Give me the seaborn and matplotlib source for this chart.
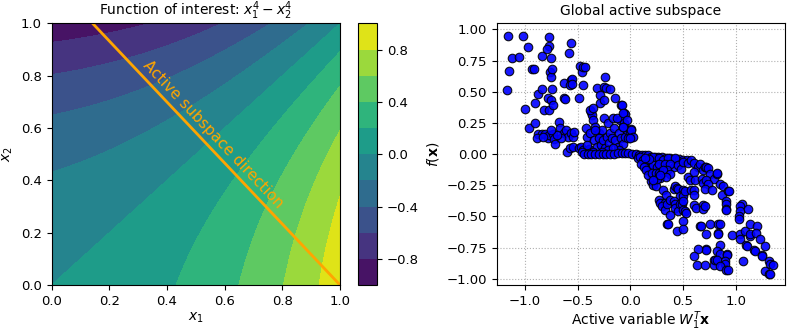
import numpy as np
import pandas as pd
import matplotlib
matplotlib.use("Agg")
import matplotlib.pyplot as plt
import seaborn as sns

# ---------------- data ----------------
# plotted (standardised) coordinates of the contour grid
u1_grid = np.linspace(0.0, 1.0, 201)
u2_grid = np.linspace(0.0, 1.0, 201)
# the function's inputs are mapped from [-1, 1] onto [0, 1]: s = (u + 1) / 2
input_lower = 0.0
input_upper = 1.0
contour_levels = [-1.0, -0.8, -0.6, -0.4, -0.2, 0.0, 0.2, 0.4, 0.6, 0.8, 1.0]
cbar_ticks = [-0.8, -0.4, 0.0, 0.4, 0.8]
axis_ticks_left = [0.0, 0.2, 0.4, 0.6, 0.8, 1.0]

# active subspace direction line (endpoints)
line_x = [0.142, 1.0]
line_y = [1.0, 0.0]

# scatter: active variable vs f(x)
points = [
    # upper-left cloud
    (-1.16, 0.95), (-1.02, 0.95), (-0.97, 0.86), (-1.12, 0.77), (-1.05, 0.78),
    (-1.15, 0.67), (-1.17, 0.51), (-1.00, 0.36), (-0.96, 0.21), (-0.90, 0.41),
    (-0.93, 0.68), (-0.91, 0.68), (-0.87, 0.48), (-0.84, 0.52), (-0.84, 0.79),
    (-0.77, 0.94), (-0.77, 0.87), (-0.79, 0.84), (-0.75, 0.77), (-0.76, 0.66),
    (-0.75, 0.62), (-0.74, 0.68), (-0.74, 0.52), (-0.78, 0.45), (-0.75, 0.43),
    (-0.82, 0.35), (-0.77, 0.35), (-0.73, 0.39), (-0.56, 0.89), (-0.58, 0.81),
    (-0.63, 0.57), (-0.63, 0.45), (-0.56, 0.59), (-0.55, 0.60), (-0.57, 0.55),
    (-0.49, 0.45), (-0.45, 0.55), (-0.48, 0.71), (-0.46, 0.66), (-0.45, 0.70),
    (-0.43, 0.70), (-0.24, 0.62), (-0.32, 0.53), (-0.29, 0.47), (-0.25, 0.54),
    (-0.23, 0.53), (-0.19, 0.52), (-0.29, 0.41), (-0.14, 0.45), (-0.09, 0.39),
    (-0.06, 0.33), (-0.05, 0.32), (-0.62, 0.44), (-0.55, 0.56),
    # band around 0.1 - 0.25
    (-0.90, 0.25), (-0.87, 0.16), (-0.84, 0.16), (-0.81, 0.16), (-0.88, 0.13),
    (-0.78, 0.13), (-0.77, 0.15), (-0.73, 0.16), (-0.72, 0.12), (-0.71, 0.08),
    (-0.68, 0.26), (-0.67, 0.21), (-0.63, 0.17), (-0.61, 0.19), (-0.59, 0.14),
    (-0.56, 0.17), (-0.54, 0.14), (-0.53, 0.18), (-0.60, 0.02), (-0.57, 0.05),
    (-0.54, 0.06), (-0.66, 0.13), (-0.69, 0.15), (-0.83, 0.14), (-0.75, 0.19),
    # central cluster
    (-0.49, 0.05), (-0.47, 0.06), (-0.45, 0.03), (-0.42, 0.21), (-0.41, 0.14),
    (-0.39, 0.04), (-0.38, 0.17), (-0.37, 0.34), (-0.36, 0.31), (-0.35, 0.27),
    (-0.34, 0.11), (-0.33, 0.22), (-0.32, 0.06), (-0.30, 0.17), (-0.30, 0.13),
    (-0.28, 0.07), (-0.27, 0.19), (-0.26, 0.11), (-0.25, 0.29), (-0.24, 0.05),
    (-0.22, 0.14), (-0.21, 0.25), (-0.20, 0.09), (-0.19, 0.17), (-0.17, 0.13),
    (-0.16, 0.29), (-0.15, 0.21), (-0.14, 0.11), (-0.12, 0.06), (-0.11, 0.17),
    (-0.10, 0.27), (-0.09, 0.13), (-0.07, 0.08), (-0.06, 0.25), (-0.05, 0.14),
    (-0.03, 0.19), (0.00, 0.17), (0.01, 0.20), (-0.02, 0.13), (-0.21, 0.03),
    (-0.27, 0.02), (-0.35, 0.02), (-0.41, 0.07), (-0.46, 0.02), (-0.11, 0.03),
    (-0.16, 0.05), (-0.13, 0.29), (-0.07, 0.22), (-0.33, 0.19), (-0.38, 0.35),
    (-0.35, 0.37), (-0.25, 0.43), (-0.08, 0.39), (-0.07, 0.33), (-0.03, 0.27),
    (0.01, 0.19), (0.03, 0.14), (0.00, 0.13), (-0.07, 0.22),
    # line near y = 0
    (-0.44, 0.00), (-0.40, 0.00), (-0.37, 0.00), (-0.33, 0.00), (-0.30, 0.00),
    (-0.26, 0.00), (-0.23, 0.00), (-0.19, 0.00), (-0.15, 0.00), (-0.12, 0.01),
    (-0.08, 0.01), (-0.05, 0.01), (-0.02, 0.01), (0.02, 0.00), (0.05, 0.00),
    (0.08, -0.01), (0.11, -0.01), (0.14, -0.01), (0.17, -0.01), (0.20, -0.02),
    (0.23, -0.02), (0.26, -0.02), (0.30, -0.02), (0.34, -0.03), (0.38, -0.03),
    (0.42, -0.04), (0.46, -0.04), (0.50, -0.05), (0.54, -0.05),
    # right dense region
    (0.07, -0.03), (0.09, -0.02), (0.12, -0.05), (0.16, -0.07), (0.19, -0.11),
    (0.20, -0.14), (0.21, -0.16), (0.20, -0.22), (0.22, -0.25), (0.10, -0.08),
    (0.13, -0.10), (0.15, -0.13), (0.17, -0.17), (0.22, -0.02), (0.27, -0.03),
    (0.31, -0.05), (0.36, -0.03), (0.42, -0.03), (0.22, -0.09), (0.25, -0.10),
    (0.31, -0.11), (0.41, -0.10), (0.21, -0.15), (0.24, -0.15), (0.27, -0.15),
    (0.30, -0.15), (0.24, -0.26), (0.27, -0.08), (0.33, -0.08), (0.38, -0.08),
    (0.35, -0.13), (0.28, -0.19), (0.25, -0.20), (0.18, -0.04), (0.14, -0.03),
    (0.45, -0.09), (0.48, -0.12), (0.31, -0.13), (0.38, -0.16), (0.34, -0.18),
    (0.28, -0.17), (0.22, -0.21),
    # right side, lower
    (0.50, -0.06), (0.55, -0.07), (0.58, -0.05), (0.60, -0.07), (0.64, -0.10),
    (0.66, -0.08), (0.69, -0.13), (0.71, -0.10), (0.72, -0.10), (0.74, -0.11),
    (0.76, -0.16), (0.79, -0.20), (0.82, -0.16), (0.85, -0.24), (0.88, -0.26),
    (0.55, -0.18), (0.57, -0.21), (0.60, -0.14), (0.61, -0.21), (0.68, -0.20),
    (0.69, -0.23), (0.72, -0.21), (0.74, -0.24), (0.71, -0.28), (0.77, -0.29),
    (0.41, -0.28), (0.42, -0.26), (0.44, -0.27), (0.45, -0.28), (0.50, -0.29),
    (0.50, -0.32), (0.47, -0.34), (0.50, -0.34), (0.52, -0.30), (0.58, -0.29),
    (0.60, -0.29), (0.60, -0.33), (0.31, -0.29), (0.34, -0.33), (0.27, -0.37),
    (0.28, -0.39), (0.33, -0.39), (0.30, -0.42), (0.33, -0.45), (0.35, -0.40),
    (0.38, -0.37), (0.41, -0.38), (0.38, -0.49), (0.42, -0.40), (0.42, -0.43),
    (0.45, -0.46), (0.47, -0.40), (0.49, -0.40), (0.50, -0.38), (0.50, -0.45),
    (0.52, -0.46), (0.53, -0.47), (0.60, -0.41), (0.62, -0.43), (0.69, -0.41),
    (0.69, -0.44), (0.71, -0.42), (0.35, -0.56), (0.36, -0.56), (0.44, -0.62),
    (0.50, -0.54), (0.50, -0.60), (0.66, -0.58), (0.67, -0.58), (0.72, -0.64),
    (0.76, -0.56), (0.72, -0.76), (0.72, -0.77), (0.64, -0.76), (0.60, -0.82),
    (0.63, -0.89), (0.71, -0.89), (0.79, -0.85), (0.79, -0.89), (0.80, -0.85),
    (0.82, -0.15), (0.87, -0.33), (0.93, -0.30), (0.94, -0.30), (0.91, -0.38),
    (0.91, -0.40), (0.91, -0.44), (0.91, -0.45), (1.06, -0.40), (1.04, -0.42),
    (1.04, -0.46), (1.03, -0.50), (1.03, -0.52), (1.12, -0.44), (0.83, -0.56),
    (0.85, -0.56), (0.83, -0.63), (0.83, -0.64), (0.96, -0.65), (1.04, -0.64),
    (1.04, -0.68), (1.09, -0.62), (1.13, -0.56), (1.20, -0.58), (1.13, -0.66),
    (1.13, -0.64), (1.19, -0.63), (1.23, -0.68), (1.10, -0.73), (1.11, -0.74),
    (1.17, -0.77), (1.18, -0.78), (1.28, -0.74), (1.25, -0.81), (1.25, -0.82),
    (1.07, -0.86), (0.85, -0.73), (0.82, -0.78), (0.85, -0.80), (0.92, -0.80),
    (0.92, -0.81), (0.82, -0.85), (0.90, -0.86), (0.90, -0.88), (0.85, -0.90),
    (0.91, -0.93), (0.93, -0.93), (1.31, -0.86), (1.32, -0.88), (1.35, -0.89),
    (1.28, -0.94), (1.31, -0.96), (1.32, -0.96),
]
active_var = [p[0] for p in points]
f_values = [p[1] for p in points]

# ---------------- figure ----------------
fig = plt.figure(figsize=(7.89, 3.32), dpi=100)
ax1 = fig.add_axes([0.0655, 0.1416, 0.3654, 0.788])
cax = fig.add_axes([0.4537, 0.1416, 0.0241, 0.788])
ax2 = fig.add_axes([0.6295, 0.1416, 0.3654, 0.788])

U1, U2 = np.meshgrid(u1_grid, u2_grid)
S1 = input_lower + (U1 + 1.0) / 2.0 * (input_upper - input_lower)
S2 = input_lower + (U2 + 1.0) / 2.0 * (input_upper - input_lower)
Z = S1 ** 4 - S2 ** 4
cf = ax1.contourf(U1, U2, Z, levels=contour_levels, cmap="viridis")
cb = fig.colorbar(cf, cax=cax)
cb.set_ticks(cbar_ticks)
cb.ax.tick_params(labelsize=9.5)

sns.lineplot(x=line_x, y=line_y, ax=ax1, color="orange", linewidth=2, sort=False)
ax1.text(0.56, 0.575, "Active subspace direction", color="orange", fontsize=11,
         rotation=-46.6, rotation_mode="anchor", ha="center", va="center",
         transform=ax1.transData)
ax1.set_xlim(0, 1)
ax1.set_ylim(0, 1)
ax1.set_xticks(axis_ticks_left)
ax1.set_yticks(axis_ticks_left)
ax1.tick_params(labelsize=9.5)
ax1.set_title("Function of interest: $x_1^4 - x_2^4$", fontsize=10)
ax1.set_xlabel("$x_1$", fontsize=10, labelpad=2)
ax1.set_ylabel("$x_2$", fontsize=10)

df = pd.DataFrame({"active": active_var, "f": f_values})
ax2.set_axisbelow(True)
ax2.grid(True, linestyle=":", color="#b0b0b0", linewidth=0.8)
sns.scatterplot(data=df, x="active", y="f", ax=ax2, color="blue",
                edgecolor="black", linewidth=0.8, s=38, alpha=0.9, zorder=3)
ax2.set_xlim(-1.266, 1.466)
ax2.set_ylim(-1.05, 1.048)
ax2.set_xticks([-1.0, -0.5, 0.0, 0.5, 1.0])
ax2.set_yticks([-1.0, -0.75, -0.5, -0.25, 0.0, 0.25, 0.5, 0.75, 1.0])
ax2.tick_params(labelsize=9.5)
ax2.set_title("Global active subspace", fontsize=10)
ax2.set_xlabel("Active variable $W_1^T\\mathbf{x}$", fontsize=10, labelpad=1)
ax2.set_ylabel("$f(\\mathbf{x})$", fontsize=10)

fig.savefig("out.png", dpi=100)
